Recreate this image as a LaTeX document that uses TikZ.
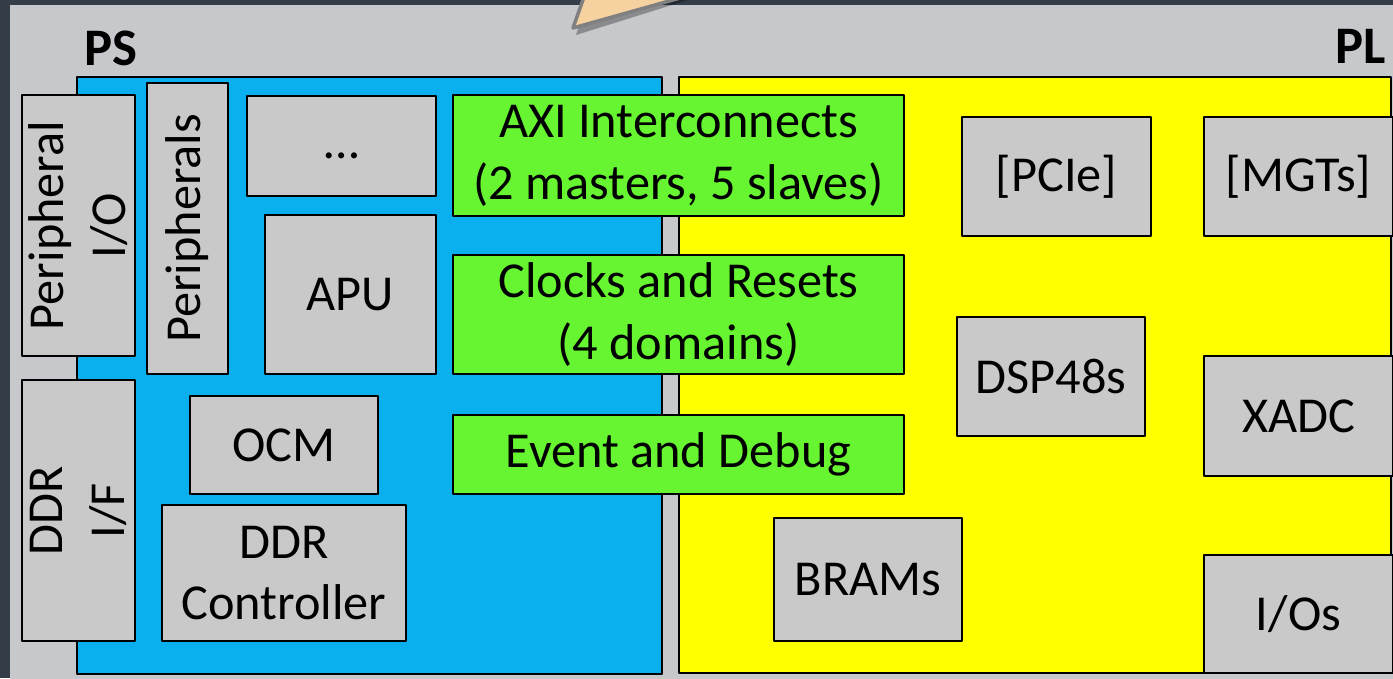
\documentclass[tikz,border=0pt]{standalone}
\usepackage{fontspec}
\setmainfont{Carlito}
\definecolor{bgdark}{HTML}{333D48}
\definecolor{panel}{HTML}{C6C8CC}
\definecolor{psblue}{HTML}{0AB0EE}
\definecolor{plyellow}{HTML}{FFFF00}
\definecolor{ipgreen}{HTML}{66F530}
\definecolor{blkgray}{HTML}{C9C9C9}
\definecolor{callout}{HTML}{F5D2A0}
\begin{document}
\begin{tikzpicture}[x=0.01cm, y=-0.01cm, line join=round,
    font=\fontsize{14.3}{17.6}\selectfont,
    blk/.style={draw=black, line width=0.6pt, fill=blkgray, inner sep=0pt, align=center},
    ip/.style={blk, fill=ipgreen},
    side/.style={blk, rotate=90},
    area/.style={draw=black, line width=0.6pt}]
	\def\W{1393} \def\H{678}
	\useasboundingbox (0,0) rectangle (\W,\H);
	\clip (0,0) rectangle (\W,\H);
	\fill[bgdark] (0,0) rectangle (\W,\H);
	\fill[panel] (10,5) rectangle (\W+5,\H+5);
	% callout pointer
	\fill[black, opacity=0.3] (576,35) -- (594,-20) -- (752,-20) -- cycle;
	\filldraw[fill=callout, draw=gray, line width=1pt] (573,28) -- (590,-20) -- (744,-20) -- cycle;
	% PS and PL
	\draw[area, fill=psblue] (77,77) rectangle (662,674);
	\draw[area, fill=plyellow] (679,77) rectangle (1391,673);
	\node[font=\fontsize{15}{18}\selectfont\bfseries] (ps) at (111,48) {PS};
	\node[font=\fontsize{15}{18}\selectfont\bfseries] (pl) at (1361,46) {PL};
	% processing system blocks
	\node[side, minimum width=2.61cm, minimum height=1.13cm] (perio) at (78.5,225.5) {Peripheral\\I/O};
	\node[side, minimum width=2.91cm, minimum height=0.81cm] (periph) at (187.5,228.5) {Peripherals};
	\node[blk, minimum width=1.89cm, minimum height=1.00cm] (more) at (341.5,146) {\strut\dots};
	\node[blk, minimum width=1.71cm, minimum height=1.59cm] (apu) at (350.5,294.5) {APU};
	\node[side, minimum width=2.61cm, minimum height=1.13cm] (ddrif) at (78.5,510.5) {DDR\\I/F};
	\node[blk, minimum width=1.88cm, minimum height=0.98cm] (ocm) at (284,445) {OCM};
	\node[blk, minimum width=2.44cm, minimum height=1.36cm] (ddrc) at (284,573) {DDR\\Controller};
	% shared blocks
	\node[ip, minimum width=4.51cm, minimum height=1.21cm] (axi) at (678.5,155.5) {AXI Interconnects\\(2 masters, 5 slaves)};
	\node[ip, minimum width=4.51cm, minimum height=1.19cm] (clk) at (678.5,314.5) {Clocks and Resets\\(4 domains)};
	\node[ip, minimum width=4.51cm, minimum height=0.79cm] (evt) at (678.5,454.5) {Event and Debug};
	% programmable logic blocks
	\node[blk, minimum width=1.89cm, minimum height=1.19cm] (pcie) at (1056.5,176.5) {[PCIe]};
	\node[blk, minimum width=1.89cm, minimum height=1.19cm] (mgts) at (1298.5,176.5) {[MGTs]};
	\node[blk, minimum width=1.88cm, minimum height=1.19cm] (dsp) at (1051,376.5) {DSP48s};
	\node[blk, minimum width=1.89cm, minimum height=1.20cm] (xadc) at (1298.5,416) {XADC};
	\node[blk, minimum width=1.88cm, minimum height=1.23cm] (bram) at (868,579.5) {BRAMs};
	\node[blk, minimum width=1.89cm, minimum height=1.18cm] (ios) at (1298.5,614) {I/Os};
\end{tikzpicture}
\end{document}
